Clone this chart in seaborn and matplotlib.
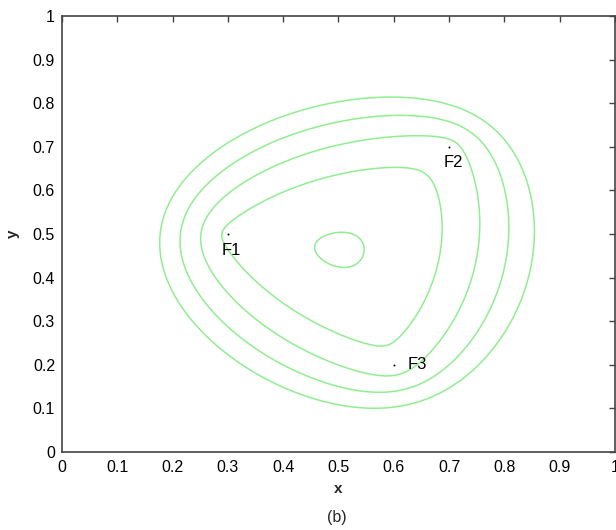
import numpy as np
import pandas as pd
import matplotlib
matplotlib.use("Agg")
import matplotlib.pyplot as plt
import seaborn as sns

# foci and contour levels (sum of distances to the three foci)
foci_x = [0.3, 0.7, 0.6]
foci_y = [0.5, 0.7, 0.2]
foci_labels = ["F1", "F2", "F3"]
label_x = [0.288, 0.69, 0.625]
label_y = [0.463, 0.664, 0.20]
levels = [0.8, 0.9, 1.0, 1.1, 1.2]

sns.set_style("white")
plt.rcParams["font.family"] = ["Liberation Sans", "DejaVu Sans"]

fig = plt.figure(figsize=(6.16, 5.30), dpi=100)
ax = fig.add_axes([0.1006, 0.1472, 0.8978, 0.8226])

gx = np.linspace(0, 1, 501)
X, Y = np.meshgrid(gx, gx)
Z = np.zeros_like(X)
for fx, fy in zip(foci_x, foci_y):
    Z += np.hypot(X - fx, Y - fy)

ax.contour(X, Y, Z, levels=levels, colors="#90EE90", linewidths=1.1)

df = pd.DataFrame({"x": foci_x, "y": foci_y})
sns.scatterplot(data=df, x="x", y="y", ax=ax, color="black", s=2, linewidth=0)

for tx, ty, lab in zip(label_x, label_y, foci_labels):
    ax.text(tx, ty, lab, ha="left", va="center", fontsize=12, color="black")

ax.set_xlim(0, 1)
ax.set_ylim(0, 1)
ax.set_xticks(np.arange(0, 1.01, 0.1))
ax.set_yticks(np.arange(0, 1.01, 0.1))
ax.set_xticklabels(["0", "0.1", "0.2", "0.3", "0.4", "0.5", "0.6", "0.7", "0.8", "0.9", "1"])
ax.set_yticklabels(["0", "0.1", "0.2", "0.3", "0.4", "0.5", "0.6", "0.7", "0.8", "0.9", "1"])
ax.tick_params(direction="in", length=4, width=1, color="#444444",
               top=True, right=True, labelsize=11.5, labelcolor="black")
ax.tick_params(axis="x", pad=6)
ax.tick_params(axis="y", pad=5)
for sp in ax.spines.values():
    sp.set_color("#444444")
    sp.set_linewidth(1.2)

ax.set_xlabel("x", fontsize=11, fontweight="bold", labelpad=5)
ax.set_ylabel("y", fontsize=11, fontweight="bold", labelpad=9)
fig.text(0.547, 0.024, "(b)", ha="center", va="center", fontsize=11.5)

plt.savefig("out.png", dpi=100)
